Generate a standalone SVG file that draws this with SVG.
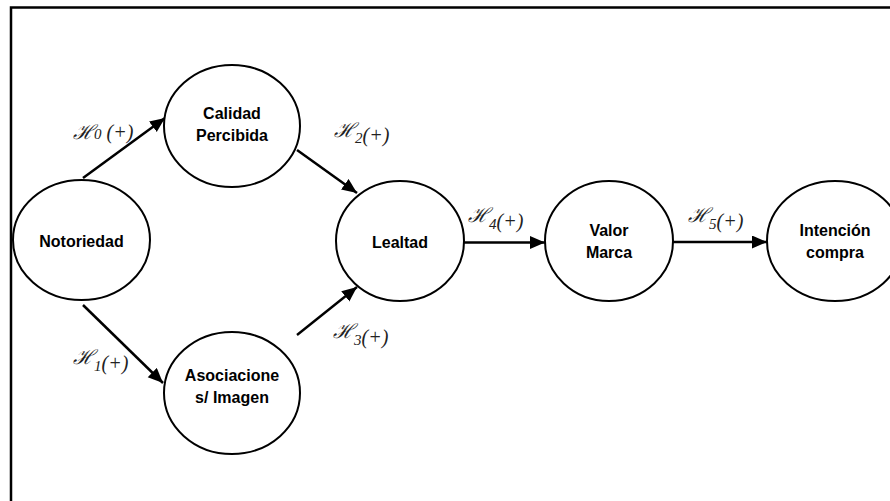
<svg xmlns="http://www.w3.org/2000/svg" width="890" height="501" viewBox="0 0 890 501">
  <style>
    .node { fill: #ffffff; stroke: #000000; stroke-width: 2; }
    .lbl { font-family: "Liberation Sans", Arial, sans-serif; font-weight: bold; font-size: 16px; fill: #000; text-anchor: middle; }
    .edge { stroke: #000; stroke-width: 2.5; fill: none; marker-end: url(#arrow); }
    .hyp { font-family: "Liberation Serif", "DejaVu Serif", serif; font-style: italic; font-size: 20px; fill: #222; }
    .sub { font-size: 15px; }
  </style>
  <defs>
    <marker id="arrow" markerUnits="userSpaceOnUse" markerWidth="16" markerHeight="14" refX="15" refY="6.5" orient="auto">
      <path d="M0,0 L15,6.5 L0,13 z" fill="#000"/>
    </marker>
  </defs>

  <rect x="11" y="7.5" width="900" height="520" fill="#ffffff" stroke="#000" stroke-width="2.5"/>

  <g id="connectors">
    <line class="edge" x1="83" y1="178" x2="165" y2="118"/>
    <line class="edge" x1="297" y1="150" x2="357" y2="193"/>
    <line class="edge" x1="83" y1="305" x2="163" y2="383"/>
    <line class="edge" x1="297" y1="335" x2="357" y2="287"/>
    <line class="edge" x1="463" y1="242.5" x2="545" y2="242.5"/>
    <line class="edge" x1="673" y1="242" x2="767" y2="242"/>
  </g>

  <g id="labels">
    <text class="hyp" x="73" y="139">ℋ<tspan class="sub">0</tspan> (+)</text>
    <text class="hyp" x="334" y="137">ℋ<tspan class="sub" dy="6">2</tspan><tspan dy="-1">(+)</tspan></text>
    <text class="hyp" x="73" y="364">ℋ<tspan class="sub" dy="7">1</tspan><tspan dy="-1">(+)</tspan></text>
    <text class="hyp" x="333" y="338">ℋ<tspan class="sub" dy="7">3</tspan><tspan dy="-1">(+)</tspan></text>
    <text class="hyp" x="468" y="222">ℋ<tspan class="sub" dy="7">4</tspan><tspan dy="-1">(+)</tspan></text>
    <text class="hyp" x="688" y="222">ℋ<tspan class="sub" dy="7">5</tspan><tspan dy="-1">(+)</tspan></text>
  </g>

  <g id="notoriedad">
    <ellipse class="node" cx="81.5" cy="240" rx="68.5" ry="60"/>
    <text class="lbl" x="81.5" y="247">Notoriedad</text>
  </g>
  <g id="calidad">
    <ellipse class="node" cx="232" cy="126" rx="68" ry="61"/>
    <text class="lbl" x="232" y="119">Calidad</text>
    <text class="lbl" x="232" y="141">Percibida</text>
  </g>
  <g id="asociaciones">
    <ellipse class="node" cx="232" cy="393" rx="68" ry="61"/>
    <text class="lbl" x="232" y="381">Asociacione</text>
    <text class="lbl" x="232" y="403">s/ Imagen</text>
  </g>
  <g id="lealtad">
    <ellipse class="node" cx="400" cy="241" rx="64" ry="60"/>
    <text class="lbl" x="400" y="248">Lealtad</text>
  </g>
  <g id="valor">
    <ellipse class="node" cx="609" cy="241" rx="64" ry="60"/>
    <text class="lbl" x="609" y="236">Valor</text>
    <text class="lbl" x="609" y="258">Marca</text>
  </g>
  <g id="intencion">
    <ellipse class="node" cx="835" cy="241" rx="68" ry="60"/>
    <text class="lbl" x="835" y="236">Intención</text>
    <text class="lbl" x="835" y="258">compra</text>
  </g>
</svg>
